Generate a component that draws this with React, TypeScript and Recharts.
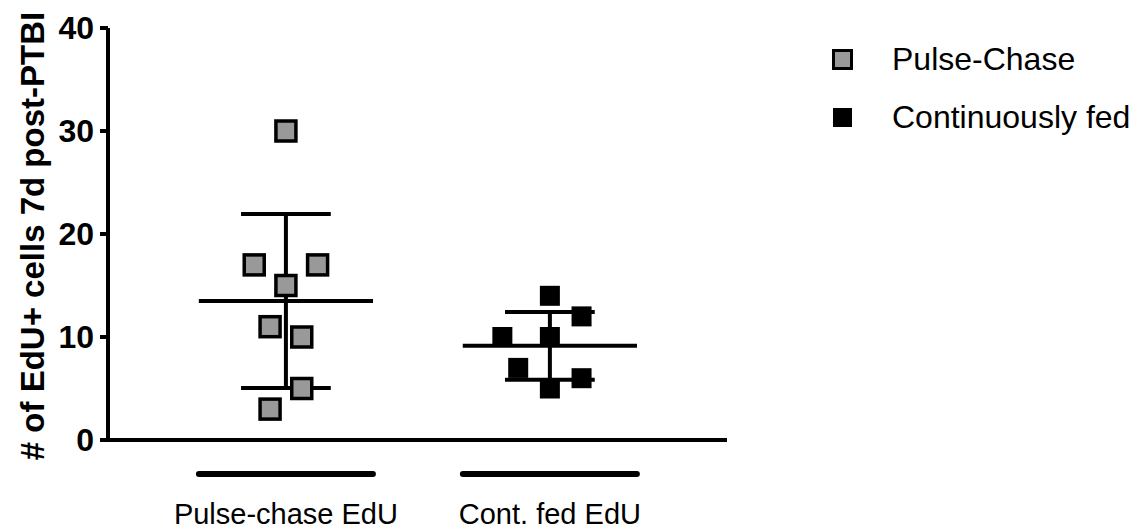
import { ScatterChart, Scatter, XAxis, YAxis, ReferenceLine } from 'recharts';

// Groups on the x axis (placed at x = 1 and x = 2)
const groups = ['Pulse-chase EdU', 'Cont. fed EdU'];
const legendNames = ['Pulse-Chase', 'Continuously fed'];

// Cell counts per animal, with horizontal jitter so points don't overlap
const pulseValues = [30, 17, 17, 15, 11, 10, 5, 3];
const pulseJitter = [0, -0.12, 0.12, 0, -0.06, 0.06, 0.06, -0.06];
const contValues = [14, 12, 10, 10, 7, 6, 5];
const contJitter = [0, 0.12, -0.18, 0, -0.12, 0.12, 0];

const yTicks = [0, 10, 20, 30, 40];

const FONT = '"Liberation Sans", Arial, Helvetica, sans-serif';
const GRAY = '#999999';

const toPoints = (vals: number[], jitter: number[], group: number) =>
  vals.map((v, i) => ({ x: group + jitter[i], y: v }));

function stats(vals: number[]) {
  const mean = vals.reduce((a, b) => a + b, 0) / vals.length;
  const sd = Math.sqrt(vals.reduce((a, v) => a + (v - mean) ** 2, 0) / (vals.length - 1));
  return { mean, sd };
}

const pulsePoints = toPoints(pulseValues, pulseJitter, 1);
const contPoints = toPoints(contValues, contJitter, 2);
const pulseStats = stats(pulseValues);
const contStats = stats(contValues);

const MEAN_HALF = 0.33;
const CAP_HALF = 0.17;

function GraySquare(props: any) {
  const { cx, cy } = props;
  return <rect x={cx - 10} y={cy - 10} width={20} height={20} fill={GRAY} stroke="#000" strokeWidth={3.5} />;
}

function BlackSquare(props: any) {
  const { cx, cy } = props;
  return <rect x={cx - 10} y={cy - 10} width={20} height={20} fill="#000" />;
}

function GroupTick(props: any) {
  const { x, y, payload } = props;
  const label = groups[Math.round(payload.value) - 1];
  if (!label) return null;
  return (
    <g>
      <line x1={x - 87} x2={x + 87} y1={y + 34} y2={y + 34} stroke="#000" strokeWidth={6} strokeLinecap="round" />
      <text x={x} y={y + 84} textAnchor="middle" fontSize={29} fontFamily={FONT} fill="#000">
        {label}
      </text>
    </g>
  );
}

function meanSdLines(group: number, s: { mean: number; sd: number }) {
  const lo = s.mean - s.sd;
  const hi = s.mean + s.sd;
  const line = { stroke: '#000', strokeWidth: 4 };
  return [
    <ReferenceLine key={`m${group}`} segment={[{ x: group - MEAN_HALF, y: s.mean }, { x: group + MEAN_HALF, y: s.mean }]} {...line} />,
    <ReferenceLine key={`v${group}`} segment={[{ x: group, y: lo }, { x: group, y: hi }]} {...line} />,
    <ReferenceLine key={`h${group}`} segment={[{ x: group - CAP_HALF, y: hi }, { x: group + CAP_HALF, y: hi }]} {...line} />,
    <ReferenceLine key={`l${group}`} segment={[{ x: group - CAP_HALF, y: lo }, { x: group + CAP_HALF, y: lo }]} {...line} />,
  ];
}

export default function App() {
  return (
    <div style={{ position: 'absolute', left: 0, top: 0, width: 1143, height: 531, background: '#fff', fontFamily: FONT }}>
      <ScatterChart width={1143} height={531} margin={{ top: 28, right: 416, bottom: 0, left: 0 }}>
        <XAxis
          type="number"
          dataKey="x"
          domain={[0.326, 2.671]}
          ticks={[1, 2]}
          tickSize={0}
          tickMargin={0}
          tickLine={false}
          axisLine={{ stroke: '#000', strokeWidth: 4 }}
          tick={<GroupTick />}
          height={91}
          allowDataOverflow
        />
        <YAxis
          type="number"
          dataKey="y"
          domain={[0, 40]}
          ticks={yTicks}
          width={108}
          tickSize={8}
          tickMargin={6}
          axisLine={{ stroke: '#000', strokeWidth: 4 }}
          tickLine={{ stroke: '#000', strokeWidth: 4 }}
          tick={{ fontSize: 32, fontWeight: 'bold', fill: '#000', fontFamily: FONT }}
          label={{
            content: () => (
              <text
                x={44}
                y={236}
                transform="rotate(-90, 44, 236)"
                textAnchor="middle"
                fontSize={33}
                fontWeight="bold"
                fontFamily={FONT}
                fill="#000"
              >
                # of EdU+ cells 7d post-PTBI
              </text>
            ),
          }}
        />
        {meanSdLines(1, pulseStats)}
        {meanSdLines(2, contStats)}
        <Scatter name={legendNames[0]} data={pulsePoints} shape={<GraySquare />} isAnimationActive={false} />
        <Scatter name={legendNames[1]} data={contPoints} shape={<BlackSquare />} isAnimationActive={false} />
      </ScatterChart>

      <div style={{ position: 'absolute', left: 832, top: 40, fontSize: 32, color: '#000', lineHeight: '38px' }}>
        <div style={{ display: 'flex', alignItems: 'center', height: 38 }}>
          <span style={{ width: 15, height: 15, background: GRAY, border: '3px solid #000', marginRight: 39 }} />
          <span>{legendNames[0]}</span>
        </div>
        <div style={{ display: 'flex', alignItems: 'center', height: 38, marginTop: 20 }}>
          <span style={{ width: 19, height: 19, background: '#000', marginLeft: 1, marginRight: 40 }} />
          <span>{legendNames[1]}</span>
        </div>
      </div>
    </div>
  );
}
